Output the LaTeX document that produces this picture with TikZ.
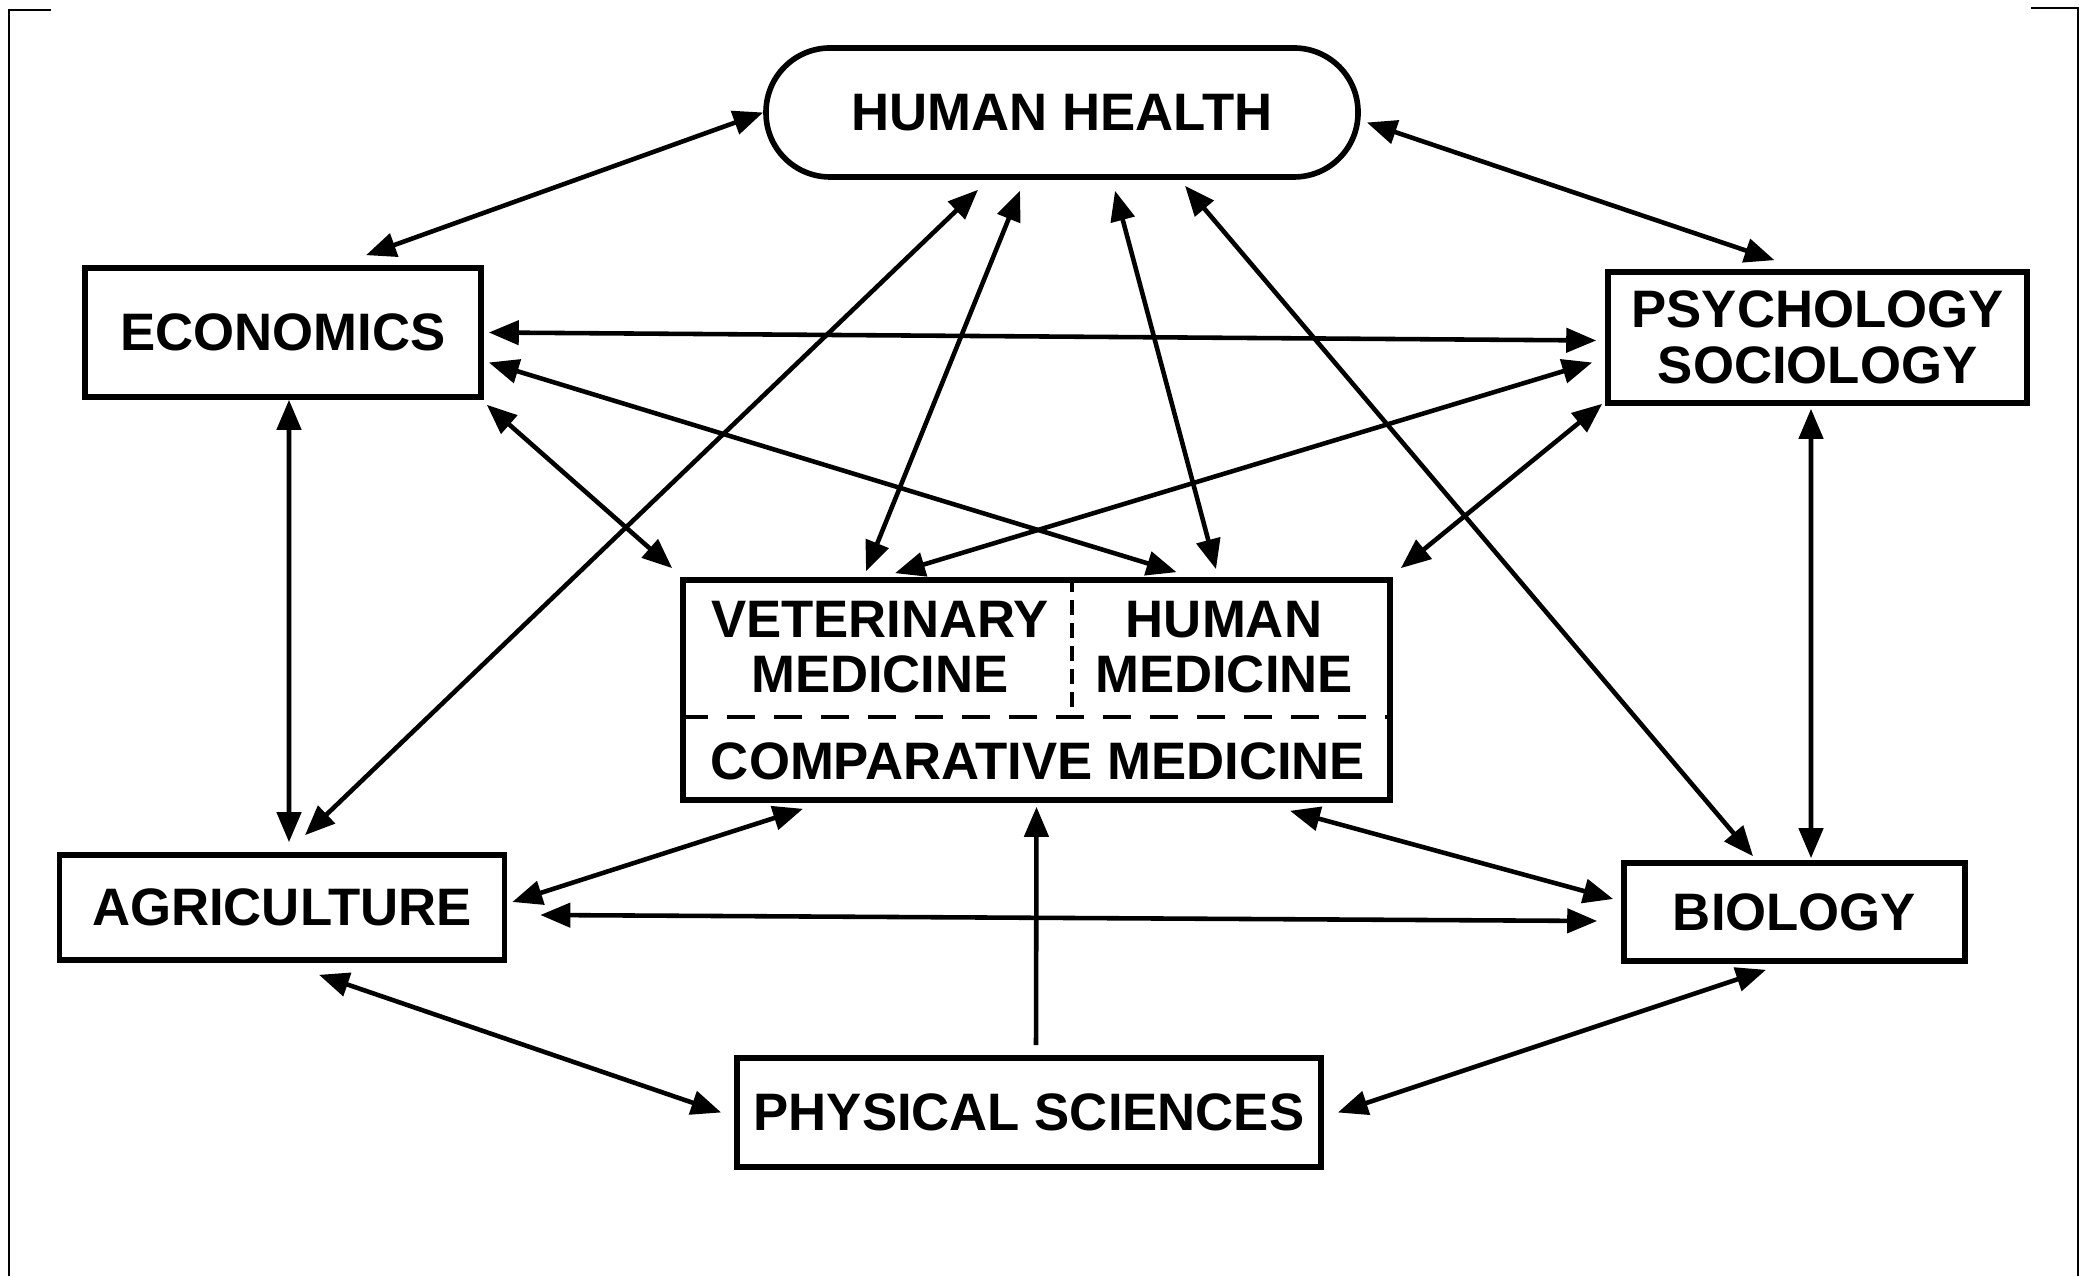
\documentclass[tikz,border=0pt]{standalone}
\usepackage{fontspec}
\setmainfont{Liberation Sans}
\usetikzlibrary{arrows.meta,calc}

\begin{document}
\begin{tikzpicture}[
  box/.style={draw, line width=1.6pt, inner sep=0pt, align=center, font=\bfseries\fontsize{15}{16}\selectfont},
  pill/.style={box, rounded corners=0.64cm},
  lbl/.style={inner sep=0pt, align=center, font=\bfseries\fontsize{15}{15.6}\selectfont},
  arr/.style={{Triangle[length=3mm,width=2.4mm]}-{Triangle[length=3mm,width=2.4mm]}, line width=1.3pt},
  uarr/.style={-{Triangle[length=3mm,width=2.4mm]}, line width=1.3pt},
  frame/.style={line width=0.8pt}
]
\useasboundingbox (0,0) rectangle (20.82,12.76);
\draw[frame] (0.51,12.66) -- (0.09,12.66) -- (0.09,0);
\draw[frame] (20.31,12.68) -- (20.78,12.68) -- (20.78,0);

\node[pill, minimum width=5.92cm, minimum height=1.29cm] (hh) at (10.62,11.635) {HUMAN HEALTH};
\node[box, minimum width=3.96cm, minimum height=1.29cm] (econ) at (2.83,9.435) {ECONOMICS};
\node[box, minimum width=4.19cm, minimum height=1.31cm] (psych) at (18.175,9.385) {PSYCHOLOGY\\SOCIOLOGY};
\node[box, minimum width=7.07cm, minimum height=2.20cm] (med) at (10.365,5.86) {};
\node[lbl] (vet) at ([shift={(-1.565,0.425)}]med.center) {VETERINARY\\MEDICINE};
\node[lbl] (hum) at ([shift={(1.875,0.425)}]med.center) {HUMAN\\MEDICINE};
\node[lbl] (comp) at ([shift={(0.015,-0.71)}]med.center) {COMPARATIVE MEDICINE};
\node[box, minimum width=4.45cm, minimum height=1.05cm] (agri) at (2.82,3.685) {AGRICULTURE};
\node[box, minimum width=3.41cm, minimum height=0.98cm] (bio) at (17.945,3.64) {BIOLOGY};
\node[box, minimum width=5.84cm, minimum height=1.09cm] (phys) at (10.29,1.635) {PHYSICAL SCIENCES};

\draw[line width=1.3pt, dash pattern=on 0.28cm off 0.19cm] ($(med.south west)+(0,0.86)$) -- ($(med.south east)+(0,0.86)$);
\draw[line width=1.1pt, dash pattern=on 0.15cm off 0.08cm] ($(med.north west)+(3.92,0)$) -- ++(0,-1.34);

\draw[arr] (hh.west) -- ([shift={(0.83,0.10)}]econ.north);
\draw[arr] ([shift={(0.06,-0.10)}]hh.east) -- ([shift={(-0.43,0.09)}]psych.north);
\draw[arr] ([shift={(-0.84,-0.10)}]hh.south) -- ([shift={(0.23,0.17)}]agri.north);
\draw[arr] ([shift={(-0.42,-0.11)}]hh.south) -- ([shift={(-1.705,0.06)}]med.north);
\draw[arr] ([shift={(0.53,-0.11)}]hh.south) -- ([shift={(1.795,0.08)}]med.north);
\draw[arr] ([shift={(1.23,-0.06)}]hh.south) -- ([shift={(-0.415,0.04)}]bio.north);

\draw[arr] ([shift={(0.05,0)}]econ.east) -- ([shift={(-0.09,-0.03)}]psych.west);
\draw[arr] ([shift={(0.05,-0.30)}]econ.east) -- ([shift={(1.40,0.05)}]med.north);
\draw[arr] ([shift={(0.03,-0.05)}]econ.south east) -- ([shift={(-0.08,0.09)}]med.north west);
\draw[arr] ([shift={(-0.13,-0.25)}]psych.west) -- ([shift={(-1.415,0.04)}]med.north);
\draw[arr] ([shift={(-0.03,0.02)}]psych.south west) -- ([shift={(0.08,0.09)}]med.north east);
\draw[arr] ([shift={(0.06,0)}]econ.south) -- ([shift={(0.07,0.10)}]agri.north);
\draw[arr] ([shift={(-0.065,-0.03)}]psych.south) -- ([shift={(0.165,0.02)}]bio.north);

\draw[arr] ([shift={(0.05,0.055)}]agri.east) -- ([shift={(-2.335,-0.06)}]med.south);
\draw[arr] ([shift={(-0.08,0.13)}]bio.west) -- ([shift={(2.535,-0.08)}]med.south);
\draw[arr] ([shift={(0.33,-0.075)}]agri.east) -- ([shift={(-0.24,-0.09)}]bio.west);
\draw[uarr] ([shift={(0.07,0.10)}]phys.north) -- ([shift={(0,-0.04)}]med.south);
\draw[arr] ([shift={(0.37,-0.12)}]agri.south) -- ([shift={(-0.13,0)}]phys.west);
\draw[arr] ([shift={(-0.285,-0.06)}]bio.south) -- ([shift={(0.14,0)}]phys.east);
\end{tikzpicture}
\end{document}
